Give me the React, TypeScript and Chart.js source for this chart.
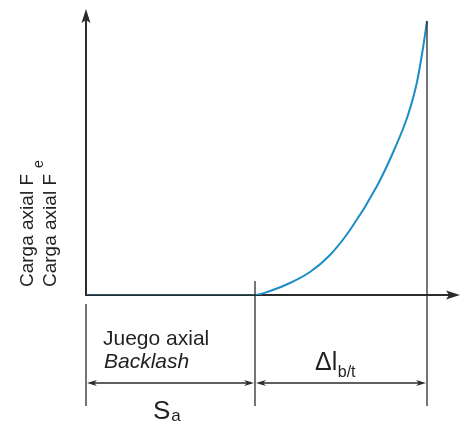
import React, { useEffect, useRef } from "react";
import { Chart, registerables } from "chart.js";

Chart.register(...registerables);

// Axial deformation (horizontal) and axial load (vertical)
const deformation = [0, 16.9, 18.4, 20.4, 22.4, 24.4, 26.4, 29.1, 30.9, 32.2, 33.1, 33.7, 34.1];
const axialLoad = [0, 0, 0.4, 1.2, 2.3, 4.0, 6.5, 10.9, 14.7, 18.0, 21.3, 24.7, 27.4];
const backlashEnd = 16.9; // S_a
const deformationEnd = 34.1; // end of Δl_b/t
const xMax = 37.4;
const yMax = 28.6;

const yLabel = "Carga axial F";
const ySub = "e";
const gapLabel = "Juego axial";
const gapLabelEn = "Backlash";
const saMain = "S";
const saSub = "a";
const dlMain = "Δl";
const dlSub = "b/t";

const INK = "#231f20";
const LINE = "#2b2b2b";
const BLUE = "#1a8dc6";
const FONT = "'Liberation Sans', Arial, Helvetica, sans-serif";

function arrowHead(ctx: CanvasRenderingContext2D, tx: number, ty: number, dir: "up" | "right" | "left", len: number, half: number) {
  ctx.beginPath();
  if (dir === "up") {
    ctx.moveTo(tx, ty);
    ctx.lineTo(tx - half, ty + len);
    ctx.lineTo(tx, ty + len - 3);
    ctx.lineTo(tx + half, ty + len);
  } else if (dir === "right") {
    ctx.moveTo(tx, ty);
    ctx.lineTo(tx - len, ty - half);
    ctx.lineTo(tx - len + 3, ty);
    ctx.lineTo(tx - len, ty + half);
  } else {
    ctx.moveTo(tx, ty);
    ctx.lineTo(tx + len, ty - half);
    ctx.lineTo(tx + len - 3, ty);
    ctx.lineTo(tx + len, ty + half);
  }
  ctx.closePath();
  ctx.fill();
}

const axesPlugin = {
  id: "axesPlugin",
  beforeDatasetsDraw(chart: any) {
    const ctx: CanvasRenderingContext2D = chart.ctx;
    const xs = chart.scales.x;
    const ys = chart.scales.y;
    const area = chart.chartArea;
    const x0 = xs.getPixelForValue(0);
    const y0 = ys.getPixelForValue(0);
    ctx.save();
    ctx.strokeStyle = LINE;
    ctx.fillStyle = LINE;
    ctx.lineWidth = 2;
    ctx.beginPath();
    ctx.moveTo(x0, y0 + 1);
    ctx.lineTo(x0, area.top + 8);
    ctx.moveTo(x0, y0);
    ctx.lineTo(area.right - 8, y0);
    ctx.stroke();
    arrowHead(ctx, x0, area.top, "up", 14, 4.5);
    arrowHead(ctx, area.right, y0, "right", 14, 4.5);
    ctx.restore();
  },
  afterDraw(chart: any) {
    const ctx: CanvasRenderingContext2D = chart.ctx;
    const xs = chart.scales.x;
    const ys = chart.scales.y;
    const x0 = xs.getPixelForValue(0);
    const xa = xs.getPixelForValue(backlashEnd);
    const xe = xs.getPixelForValue(deformationEnd);
    const y0 = ys.getPixelForValue(0);
    const yTop = ys.getPixelForValue(axialLoad[axialLoad.length - 1]);
    const dimY = y0 + 88;
    const extBottom = y0 + 111;
    ctx.save();
    ctx.strokeStyle = LINE;
    ctx.fillStyle = LINE;
    ctx.lineWidth = 1.3;
    ctx.beginPath();
    ctx.moveTo(x0, y0 + 9);
    ctx.lineTo(x0, extBottom);
    ctx.moveTo(xa, y0 - 14);
    ctx.lineTo(xa, extBottom);
    ctx.moveTo(xe, yTop);
    ctx.lineTo(xe, extBottom);
    ctx.stroke();
    // dimension lines
    ctx.lineWidth = 1.3;
    ctx.beginPath();
    ctx.moveTo(x0 + 4, dimY);
    ctx.lineTo(xa - 4, dimY);
    ctx.moveTo(xa + 4, dimY);
    ctx.lineTo(xe - 4, dimY);
    ctx.stroke();
    arrowHead(ctx, x0 + 1, dimY, "left", 10, 3);
    arrowHead(ctx, xa - 1, dimY, "right", 10, 3);
    arrowHead(ctx, xa + 1, dimY, "left", 10, 3);
    arrowHead(ctx, xe - 1, dimY, "right", 10, 3);

    // texts
    ctx.fillStyle = INK;
    ctx.textBaseline = "alphabetic";
    ctx.textAlign = "left";
    ctx.font = `21px ${FONT}`;
    ctx.fillText(gapLabel, x0 + 17, y0 + 50);
    ctx.font = `italic 21px ${FONT}`;
    ctx.fillText(gapLabelEn, x0 + 18, y0 + 73);

    ctx.font = `26px ${FONT}`;
    ctx.fillText(saMain, x0 + 67, y0 + 124);
    const sw = ctx.measureText(saMain).width;
    ctx.font = `17px ${FONT}`;
    ctx.fillText(saSub, x0 + 67 + sw + 1, y0 + 126);

    ctx.font = `25px ${FONT}`;
    ctx.fillText(dlMain, xa + 60, y0 + 75);
    const dw = ctx.measureText(dlMain).width;
    ctx.font = `16px ${FONT}`;
    ctx.fillText(dlSub, xa + 60 + dw + 0.5, y0 + 82);

    // y label (two overlapping-print lines)
    ctx.font = `19px ${FONT}`;
    ctx.save();
    ctx.translate(33, y0 - 8);
    ctx.rotate(-Math.PI / 2);
    ctx.fillText(yLabel, 0, 0);
    ctx.restore();
    ctx.save();
    ctx.translate(56, y0 - 8);
    ctx.rotate(-Math.PI / 2);
    ctx.fillText(yLabel, 0, 0);
    ctx.restore();
    ctx.font = `14px ${FONT}`;
    ctx.save();
    ctx.translate(42.5, y0 - 127);
    ctx.rotate(-Math.PI / 2);
    ctx.fillText(ySub, 0, 0);
    ctx.restore();
    ctx.restore();
  },
};

export default function App() {
  const canvasRef = useRef<HTMLCanvasElement | null>(null);
  useEffect(() => {
    if (!canvasRef.current) return;
    const points = deformation.map((d, i) => ({ x: d, y: axialLoad[i] }));
    const chart = new Chart(canvasRef.current, {
      type: "line",
      data: {
        datasets: [
          {
            data: points,
            borderColor: BLUE,
            borderWidth: 2,
            pointRadius: 0,
            fill: false,
            cubicInterpolationMode: "monotone",
            segment: {
              borderColor: (c: any) => (c.p0.parsed.y === 0 && c.p1.parsed.y === 0 ? "#24546a" : BLUE),
            },
          },
        ],
      },
      options: {
        responsive: false,
        animation: false,
        devicePixelRatio: 1,
        layout: { padding: { left: 86, right: 3, top: 9, bottom: 129 } },
        plugins: { legend: { display: false }, tooltip: { enabled: false } },
        scales: {
          x: { type: "linear", min: 0, max: xMax, display: false },
          y: { type: "linear", min: 0, max: yMax, display: false },
        },
      },
      plugins: [axesPlugin],
    });
    return () => chart.destroy();
  }, []);
  return (
    <div style={{ position: "fixed", left: 0, top: 0, width: 463, height: 424, background: "#fff" }}>
      <canvas ref={canvasRef} width={463} height={424} style={{ display: "block" }} />
    </div>
  );
}
